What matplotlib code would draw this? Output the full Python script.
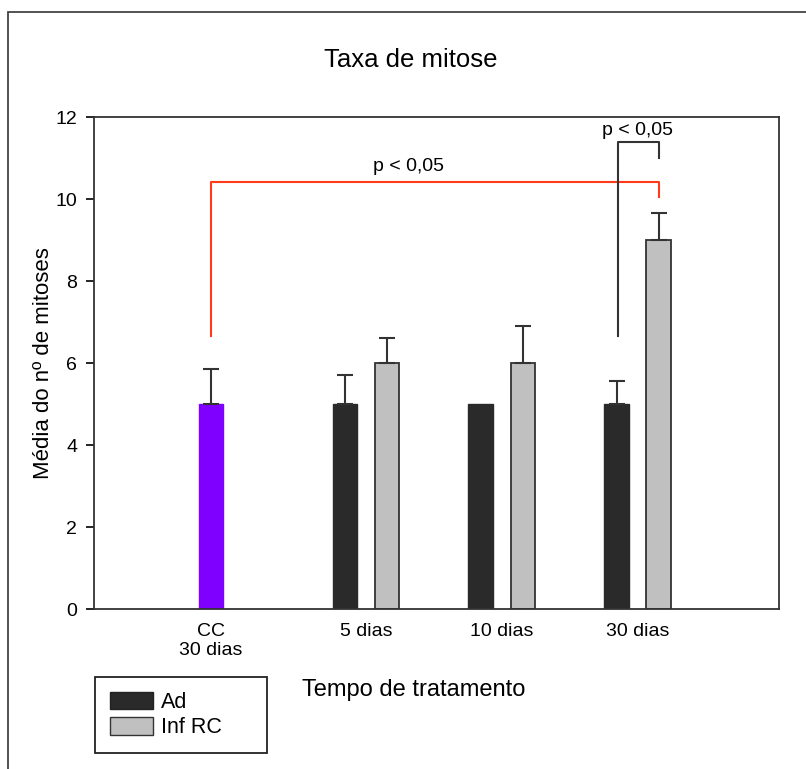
import matplotlib.pyplot as plt
from matplotlib.patches import Rectangle, Patch

plt.rcParams['font.family'] = ['Liberation Sans', 'DejaVu Sans']

# dados
categorias = ['CC\n30 dias', '5 dias', '10 dias', '30 dias']
cc_media = 5.0
cc_erro = 0.85
ad_media = [5.0, 5.0, 5.0]
ad_erro = [0.7, 0.0, 0.55]
inf_media = [6.0, 6.0, 9.0]
inf_erro = [0.6, 0.9, 0.65]
p_texto = 'p < 0,05'

# posicoes
x_cc = 0.86
x_grupos = [2.0, 3.0, 4.0]
larg = 0.18
desl = 0.155

fig = plt.figure(figsize=(8.06, 7.69), dpi=100)
ax = fig.add_axes([94/806, 1-609/769, (779-94)/806, (609-117)/769])

ax.bar(x_cc, cc_media, width=larg, color='#8000ff', edgecolor='#8000ff')
ax.errorbar(x_cc, cc_media, yerr=[[0], [cc_erro]], fmt='none', ecolor='#333333',
            elinewidth=1.5, capsize=6, capthick=1.5)

xa = [x - desl for x in x_grupos]
xi = [x + desl for x in x_grupos]
ax.bar(xa, ad_media, width=larg, color='#2a2a2a', edgecolor='#2a2a2a')
ax.bar(xi, inf_media, width=larg, color='#c0c0c0', edgecolor='#333333', linewidth=1.3)
for x, m, e in zip(xa, ad_media, ad_erro):
    if e > 0:
        ax.errorbar(x, m, yerr=[[0], [e]], fmt='none', ecolor='#333333',
                    elinewidth=1.5, capsize=6, capthick=1.5)
for x, m, e in zip(xi, inf_media, inf_erro):
    ax.errorbar(x, m, yerr=[[0], [e]], fmt='none', ecolor='#333333',
                elinewidth=1.5, capsize=6, capthick=1.5)

# comparacoes
ax.plot([x_cc, x_cc, xi[2], xi[2]], [6.66, 10.41, 10.41, 10.05], color='#ff3b1a', lw=1.5)
ax.text((x_cc + xi[2]) / 2 - 0.19, 10.8, p_texto, ha='center', va='center', fontsize=14)
ax.plot([xa[2] + 0.01, xa[2] + 0.01, xi[2], xi[2]], [6.66, 11.39, 11.39, 11.0], color='#333333', lw=1.5)
ax.text(4.0, 11.68, p_texto, ha='center', va='center', fontsize=14)

ax.set_xlim(0, 5.04)
ax.set_ylim(0, 12)
ax.set_yticks(range(0, 13, 2))
ax.set_xticks([x_cc] + x_grupos)
ax.set_xticklabels(categorias)
ax.tick_params(axis='x', length=0, pad=10, labelsize=14)
ax.tick_params(axis='y', direction='out', length=6, width=1.2, labelsize=14, pad=6)
for s in ax.spines.values():
    s.set_linewidth(1.3)
    s.set_color('#333333')

ax.set_ylabel('Média do nº de mitoses', fontsize=16)
ax.yaxis.set_label_coords(-0.058, 0.5)
fig.text(414/806, 1-690/769, 'Tempo de tratamento', ha='center', va='center', fontsize=17)
fig.text(411/806, 1-60/769, 'Taxa de mitose', ha='center', va='center', fontsize=18.5)

# legenda
leg = ax.legend(handles=[Patch(facecolor='#2a2a2a', edgecolor='#222222', label='Ad'),
                         Patch(facecolor='#c0c0c0', edgecolor='#333333', label='Inf RC')],
                loc='upper left', bbox_to_anchor=(110/806, 1-692/769), bbox_transform=fig.transFigure,
                frameon=False, fontsize=15.5, handlelength=2.0, handleheight=0.85,
                labelspacing=0.2, borderpad=0.0, handletextpad=0.35, borderaxespad=0)
fig.add_artist(Rectangle((95/806, 1-753/769), 172/806, 76/769, transform=fig.transFigure,
                         fill=False, edgecolor='#222222', lw=1.3))

fig.add_artist(Rectangle((8/806, -0.1), 1.0, 1.1 - 12/769, transform=fig.transFigure,
                         fill=False, edgecolor='#444444', lw=1.3))

fig.savefig('out.png', dpi=100)
